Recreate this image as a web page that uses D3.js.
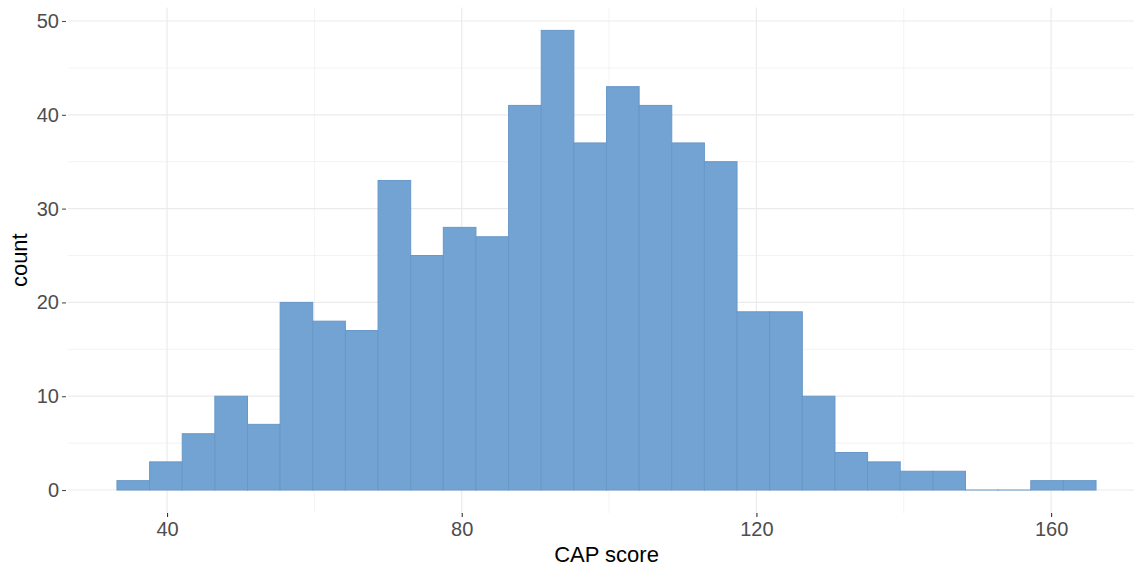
<!DOCTYPE html>
<html><head><meta charset="utf-8">
<script src="https://cdn.jsdelivr.net/npm/d3@7"></script>
<style>body{margin:0;background:#fff}svg{display:block}</style>
</head><body>
<svg id="c" width="1134" height="569"></svg>
<script>
const binStart = 33.2;
const binWidth = 4.43;
const counts = [1,3,6,10,7,20,18,17,33,25,28,27,41,49,37,43,41,37,35,19,19,10,4,3,2,2,0,0,1,1];
const xTicks = [40,80,120,160];
const xMinor = [60,100,140];
const yTicks = [0,10,20,30,40,50];
const yMinor = [5,15,25,35,45];
const xTitle = "CAP score";
const yTitle = "count";

const bins = counts.map((c,i)=>({x0: binStart + i*binWidth, x1: binStart + (i+1)*binWidth, n: c}));
const xmin = bins[0].x0, xmax = bins[bins.length-1].x1;
const xr = xmax - xmin, ymaxv = d3.max(counts);

const svg = d3.select("#c");
const P = {l:68, r:1145, t:7.4, b:513};
const x = d3.scaleLinear().domain([xmin - 0.05*xr, xmax + 0.05*xr]).range([P.l, P.r]);
const y = d3.scaleLinear().domain([-0.05*ymaxv, ymaxv*1.05]).range([P.b, P.t]);

const g = svg.append("g");
// minor grid
g.selectAll(".mx").data(xMinor).join("line").attr("x1",d=>x(d)).attr("x2",d=>x(d)).attr("y1",P.t).attr("y2",P.b).attr("stroke","#ebebeb").attr("stroke-width",0.6);
g.selectAll(".my").data(yMinor).join("line").attr("y1",d=>y(d)).attr("y2",d=>y(d)).attr("x1",P.l).attr("x2",P.r).attr("stroke","#ebebeb").attr("stroke-width",0.6);
// major grid
g.selectAll(".Mx").data(xTicks).join("line").attr("x1",d=>x(d)).attr("x2",d=>x(d)).attr("y1",P.t).attr("y2",P.b).attr("stroke","#ebebeb").attr("stroke-width",1.2);
g.selectAll(".My").data(yTicks).join("line").attr("y1",d=>y(d)).attr("y2",d=>y(d)).attr("x1",P.l).attr("x2",P.r).attr("stroke","#ebebeb").attr("stroke-width",1.2);

// bars
g.selectAll(".bar").data(bins).join("rect")
  .attr("x",d=>x(d.x0)).attr("width",d=>x(d.x1)-x(d.x0))
  .attr("y",d=>y(d.n)).attr("height",d=>Math.max(0.01,y(0)-y(d.n)))
  .attr("fill","#72a3d3").attr("stroke","#6798c9").attr("stroke-width",1);

// axes
const xAxis = d3.axisBottom(x).tickValues(xTicks).tickSize(4).tickPadding(5);
const ax = svg.append("g").attr("transform",`translate(0,${P.b})`).call(xAxis);
const yAxis = d3.axisLeft(y).tickValues(yTicks).tickSize(4).tickPadding(3);
const ay = svg.append("g").attr("transform",`translate(${P.l-2},0)`).call(yAxis);
[ax,ay].forEach(a=>{
  a.select(".domain").remove();
  a.selectAll(".tick line").attr("stroke","#333").attr("stroke-width",1.1);
  a.selectAll(".tick text").attr("fill","#4d4d4d").style("font-family","'Liberation Sans', Arial, sans-serif").style("font-size","20px");
});
ay.selectAll(".tick line").attr("stroke","#4d4d4d");

svg.append("text").attr("x",(P.l+P.r)/2).attr("y",562).attr("text-anchor","middle")
  .style("font-family","'Liberation Sans', Arial, sans-serif").style("font-size","22px").attr("fill","#000").text(xTitle);
svg.append("text").attr("transform",`translate(27,${(P.t+P.b)/2}) rotate(-90)`).attr("text-anchor","middle")
  .style("font-family","'Liberation Sans', Arial, sans-serif").style("font-size","22px").attr("fill","#000").text(yTitle);
</script>
</body></html>
